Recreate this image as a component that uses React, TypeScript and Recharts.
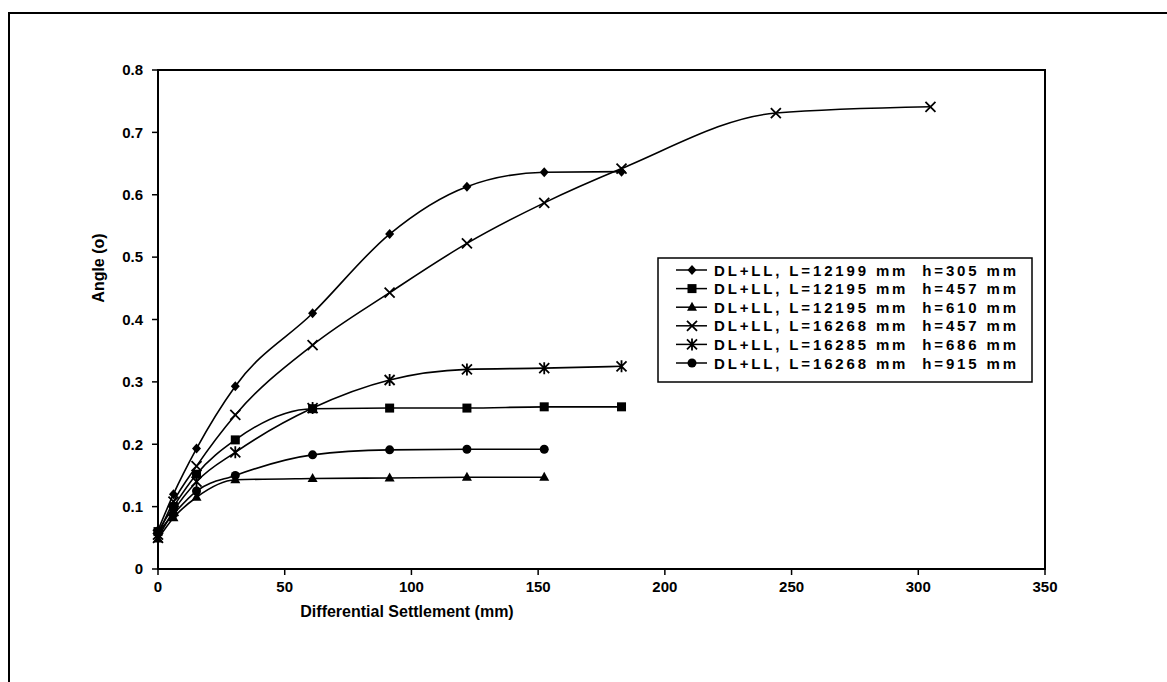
import React from "react";
import {
  LineChart,
  Line,
  XAxis,
  YAxis,
  ReferenceArea,
  Label,
} from "recharts";

// differential settlement (mm) at each load step
const settlement = [0, 6.1, 15.2, 30.5, 61, 91.4, 121.9, 152.4, 182.9, 243.8, 304.8];

// angle (o) per beam case
const angleA = [0.062, 0.12, 0.193, 0.293, 0.41, 0.537, 0.613, 0.636, 0.637];
const angleB = [0.06, 0.1, 0.152, 0.207, 0.257, 0.258, 0.258, 0.26, 0.26];
const angleC = [0.048, 0.082, 0.115, 0.143, 0.145, 0.146, 0.147, 0.147];
const angleD = [0.055, 0.108, 0.165, 0.247, 0.359, 0.443, 0.522, 0.587, 0.642, 0.731, 0.741];
const angleE = [0.05, 0.093, 0.14, 0.187, 0.258, 0.303, 0.32, 0.322, 0.325];
const angleF = [0.058, 0.088, 0.125, 0.15, 0.183, 0.191, 0.192, 0.192];

const seriesNames = [
  "DL+LL, L=12199 mm  h=305 mm",
  "DL+LL, L=12195 mm  h=457 mm",
  "DL+LL, L=12195 mm  h=610 mm",
  "DL+LL, L=16268 mm  h=457 mm",
  "DL+LL, L=16285 mm  h=686 mm",
  "DL+LL, L=16268 mm  h=915 mm",
];

const xTicks = [0, 50, 100, 150, 200, 250, 300, 350];
const yTicks = [0, 0.1, 0.2, 0.3, 0.4, 0.5, 0.6, 0.7, 0.8];

const FONT = "'Liberation Sans', Arial, sans-serif";

const toPoints = (vals: number[]) => vals.map((v, i) => ({ x: settlement[i], y: v }));

type Shape = "diamond" | "square" | "triangle" | "cross" | "star" | "circle";

const marker = (shape: Shape, cx: number, cy: number, key?: any) => {
  const s = "#000";
  switch (shape) {
    case "diamond":
      return <path key={key} d={`M${cx},${cy - 5}L${cx + 4.5},${cy}L${cx},${cy + 5}L${cx - 4.5},${cy}Z`} fill={s} />;
    case "square":
      return <rect key={key} x={cx - 4.5} y={cy - 4.5} width={9} height={9} fill={s} />;
    case "triangle":
      return <path key={key} d={`M${cx},${cy - 5.5}L${cx + 5},${cy + 3.5}L${cx - 5},${cy + 3.5}Z`} fill={s} />;
    case "cross":
      return (
        <path key={key} d={`M${cx - 5},${cy - 5}L${cx + 5},${cy + 5}M${cx + 5},${cy - 5}L${cx - 5},${cy + 5}`} stroke={s} strokeWidth={1.8} />
      );
    case "star":
      return (
        <path
          key={key}
          d={`M${cx - 5},${cy - 5}L${cx + 5},${cy + 5}M${cx + 5},${cy - 5}L${cx - 5},${cy + 5}M${cx},${cy - 6}L${cx},${cy + 6}`}
          stroke={s}
          strokeWidth={1.8}
        />
      );
    default:
      return <circle key={key} cx={cx} cy={cy} r={4.5} fill={s} />;
  }
};

const series: { name: string; data: { x: number; y: number }[]; shape: Shape }[] = [
  { name: seriesNames[0], data: toPoints(angleA), shape: "diamond" },
  { name: seriesNames[1], data: toPoints(angleB), shape: "square" },
  { name: seriesNames[2], data: toPoints(angleC), shape: "triangle" },
  { name: seriesNames[3], data: toPoints(angleD), shape: "cross" },
  { name: seriesNames[4], data: toPoints(angleE), shape: "star" },
  { name: seriesNames[5], data: toPoints(angleF), shape: "circle" },
];

const LegendBox = () => (
  <svg width={376} height={126} style={{ display: "block" }}>
    <rect x={1} y={1} width={374} height={124} fill="#fff" stroke="#000" strokeWidth={1.5} />
    {series.map((s, i) => {
      const y = 13 + i * 18.6;
      return (
        <g key={s.name}>
          <line x1={19} x2={50} y1={y} y2={y} stroke="#000" strokeWidth={1.5} />
          {marker(s.shape, 35, y)}
          <text
            x={57}
            y={y + 5.5}
            fontFamily={FONT}
            fontWeight="bold"
            fontSize={15}
            textLength={302}
            lengthAdjust="spacing"
            style={{ whiteSpace: "pre" }}
          >
            {s.name}
          </text>
        </g>
      );
    })}
  </svg>
);

export default function App() {
  return (
    <div style={{ position: "absolute", left: 0, top: 0, width: 1167, height: 682, background: "#fff", overflow: "hidden" }}>
      <div
        style={{
          position: "absolute",
          left: 8,
          top: 12,
          width: 1200,
          height: 700,
          borderLeft: "2px solid #000",
          borderTop: "2px solid #000",
        }}
      />
      <LineChart
        width={1167}
        height={682}
        margin={{ top: 70, right: 122, bottom: 73, left: 98 }}
        style={{ position: "absolute", left: 0, top: 0 }}
      >
        <ReferenceArea x1={0} x2={350} y1={0} y2={0.8} fill="none" stroke="#000" strokeWidth={2} ifOverflow="visible" />
        <XAxis
          type="number"
          dataKey="x"
          domain={[0, 350]}
          ticks={xTicks}
          height={40}
          tickSize={6}
          tickMargin={6}
          axisLine={{ stroke: "#000", strokeWidth: 2 }}
          tickLine={{ stroke: "#000", strokeWidth: 1.5 }}
          tick={{ fill: "#000", fontFamily: FONT, fontWeight: "bold", fontSize: 15 }}
          allowDuplicatedCategory={false}
        >
          <Label
            content={() => (
              <text x={407} y={617} textAnchor="middle" fontFamily={FONT} fontWeight="bold" fontSize={16} fill="#000">
                Differential Settlement (mm)
              </text>
            )}
          />
        </XAxis>
        <YAxis
          type="number"
          dataKey="y"
          domain={[0, 0.8]}
          ticks={yTicks}
          width={60}
          tickSize={6}
          tickMargin={9}
          axisLine={{ stroke: "#000", strokeWidth: 2 }}
          tickLine={{ stroke: "#000", strokeWidth: 1.5 }}
          tick={{ fill: "#000", fontFamily: FONT, fontWeight: "bold", fontSize: 15 }}
          tickFormatter={(v: number) => (v === 0 ? "0" : v.toFixed(1))}
        >
          <Label
            content={() => (
              <text
                x={104}
                y={268}
                textAnchor="middle"
                transform="rotate(-90 104 268)"
                fontFamily={FONT}
                fontWeight="bold"
                fontSize={16}
                fill="#000"
              >
                Angle (o)
              </text>
            )}
          />
        </YAxis>
        {series.map((s) => (
          <Line
            key={s.name}
            name={s.name}
            data={s.data}
            dataKey="y"
            type="monotone"
            stroke="#000"
            strokeWidth={1.6}
            isAnimationActive={false}
            dot={(p: any) => marker(s.shape, p.cx, p.cy, `${s.name}-${p.index}`)}
            activeDot={false}
          />
        ))}
      </LineChart>
      <div style={{ position: "absolute", left: 657, top: 257 }}>
        <LegendBox />
      </div>
    </div>
  );
}
